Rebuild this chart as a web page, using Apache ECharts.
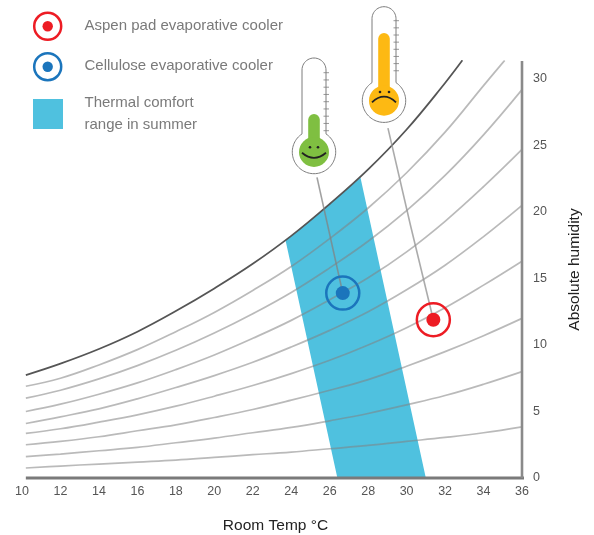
<!DOCTYPE html>
<html>
<head>
<meta charset="utf-8">
<style>html,body{margin:0;padding:0;background:#fff}#c{width:594px;height:535px}</style>
<script src="https://cdn.jsdelivr.net/npm/echarts@6/dist/echarts.min.js"></script>
</head>
<body>
<div id="c"></div>
<script>
// ---- data ----
const xTickMin = 10, xTickMax = 36, xTickStep = 2;
const yTickStep = 5;
const temps = [10.2,12,14,16,18,20,22,24,26,28,30,32,34,36];
const saturationTemps = [10.2,12,14,16,18,20,22,24,26,28,30,32,32.9];
const saturation = [7.74,8.6,9.7,11.0,12.55,14.25,16.1,18.2,20.6,23.2,26.2,29.7,31.4];
const curveATemps = [10.2,12,14,16,18,20,22,24,26,28,30,32,34,35.1];
const curveA = [6.9,7.5,8.5,9.65,11.0,12.45,14.1,15.9,18.0,20.3,22.95,26.0,29.5,31.4];
const curveB = [6.0,6.6,7.45,8.45,9.6,10.9,12.35,13.95,15.8,17.8,20.1,22.75,25.8,29.2];
const curveC = [5.0,5.55,6.3,7.15,8.15,9.25,10.5,11.85,13.4,15.05,17.0,19.3,21.9,24.7];
const curveD = [4.1,4.6,5.2,5.95,6.8,7.7,8.7,9.85,11.1,12.5,14.15,16.0,18.15,20.5];
const curveE = [3.35,3.7,4.2,4.75,5.4,6.15,6.95,7.85,8.85,10.0,11.3,12.8,14.5,16.3];
const curveF = [2.5,2.75,3.1,3.55,4.0,4.55,5.15,5.85,6.6,7.4,8.4,9.5,10.7,12.0];
const curveG = [1.6,1.8,2.05,2.3,2.65,3.0,3.4,3.8,4.3,4.85,5.5,6.2,7.05,8.0];
const curveH = [0.75,0.9,1.05,1.2,1.35,1.55,1.75,1.95,2.2,2.45,2.75,3.05,3.4,3.85];
const comfortTemps = [26.4,31.0,27.6,27,26,25,24,23.7];
const comfortHumidity = [0,0,22.6,21.85,20.6,19.4,18.2,17.9];
const aspenPoint = [31.39,11.9];
const cellulosePoint = [26.68,13.9];
const aspenLeader = [[29.03,26.3],[30.2,19],[31.39,11.9]];
const celluloseLeader = [[25.34,22.6],[26.68,13.9]];
const xBaseLine = [[10.2,0],[36.4,0]];
const yBaseLine = [[36,0],[36,31.35]];
const legendLabels = ['Aspen pad evaporative cooler','Cellulose evaporative cooler','Thermal comfort\nrange in summer'];
const xName = 'Room Temp °C';
const yName = 'Absolute humidity';

// ---- styles ----
const FONT = '"Liberation Sans", Arial, sans-serif';
const RED = '#ED1C24', BLUE = '#1B75BC', CYAN = '#4FC1DF';
const zip = (xs, ys) => ys.map((y, i) => [xs[i], y]);
const grayLine = (name, xs, ys) => ({
  name, type: 'line', data: zip(xs, ys), smooth: 0.4, symbol: 'none', z: 3, silent: true,
  lineStyle: {color: 'rgba(130,130,130,0.55)', width: 1.7}
});

function arcPoints(cx, cy, r, a0, a1, n) {
  const pts = [];
  for (let i = 0; i <= n; i++) {
    const a = a0 + (a1 - a0) * i / n;
    pts.push([cx + r * Math.cos(a), cy + r * Math.sin(a)]);
  }
  return pts;
}
function thermometer(cx, cy, top, fillTop, color, tickYs, face) {
  const sw = 12, R = 21.7, r = 15, inner = 5.8;
  const neckA = Math.asin(sw / R);
  const pts = [
    ...arcPoints(cx, top + sw, sw, Math.PI, 2 * Math.PI, 24),
    ...arcPoints(cx, cy, R, -Math.PI / 2 + neckA, 1.5 * Math.PI - neckA, 72)
  ];
  const els = [
    {type: 'polygon', z: 20, shape: {points: pts}, style: {fill: '#fff', stroke: '#7d7d7d', lineWidth: 1}},
    {type: 'rect', z: 21, shape: {x: cx-inner, y: fillTop, width: inner*2, height: cy-fillTop, r: [inner,inner,0,0]}, style: {fill: color}},
    {type: 'circle', z: 21, shape: {cx, cy, r}, style: {fill: color}}
  ];
  tickYs.forEach(y => els.push({type: 'line', z: 21, shape: {x1: cx+9.5, y1: y, x2: cx+15, y2: y}, style: {stroke: '#7d7d7d', lineWidth: 0.8}}));
  face.forEach(e => els.push(e));
  return els;
}
const eye = (x, y) => ({type: 'circle', z: 22, shape: {cx: x, cy: y, r: 1.3}, style: {fill: '#222'}});
const mouth = (x1, y1, cx, cy, x2, y2) => ({type: 'bezierCurve', z: 22,
  shape: {x1, y1, x2, y2, cpx1: cx, cpy1: cy},
  style: {fill: 'none', stroke: '#222', lineWidth: 1.8}});
const ticksFrom = (start, step, n) => Array.from({length: n}, (_, i) => start + i * step);

const legendIcon = (cy, color) => [
  {type: 'circle', shape: {cx: 47.7, cy, r: 13.5}, style: {fill: 'none', stroke: color, lineWidth: 2.5}},
  {type: 'circle', shape: {cx: 47.7, cy, r: 5.2}, style: {fill: color}}
];
const legendText = (y, text) => ({type: 'text', x: 84.5, y, style: {text, fill: '#7a7a7a', font: '15px ' + FONT, lineHeight: 21.5, textVerticalAlign: 'middle'}});

const chart = echarts.init(document.getElementById('c'), null, {renderer: 'canvas'});
chart.setOption({
  animation: false,
  backgroundColor: '#fff',
  grid: {left: 22, right: 72, top: 61, bottom: 57, containLabel: false, outerBoundsMode: 'none'},
  xAxis: {
    type: 'value', min: xTickMin, max: xTickMax, interval: xTickStep,
    splitLine: {show: false}, axisTick: {show: false}, axisLine: {show: false},
    axisLabel: {color: '#555', fontFamily: FONT, fontSize: 12.5, margin: 7},
    name: xName, nameLocation: 'middle', nameGap: 40,
    nameTextStyle: {color: '#222', fontFamily: FONT, fontSize: 15.5, padding: [0,0,0,7]}
  },
  yAxis: {
    type: 'value', min: 0, max: 31.35, interval: yTickStep, position: 'right',
    splitLine: {show: false}, axisTick: {show: false}, axisLine: {show: false},
    axisLabel: {color: '#555', fontFamily: FONT, fontSize: 12.5, margin: 11, showMaxLabel: false, showMinLabel: true},
    name: yName, nameLocation: 'middle', nameGap: 45, nameRotate: 90,
    nameTextStyle: {color: '#222', fontFamily: FONT, fontSize: 15.5}
  },
  series: [
    {name: 'Thermal comfort range in summer', type: 'custom', z: 2, silent: true, data: [0], clip: false,
      renderItem: (p, api) => ({type: 'polygon',
        shape: {points: zip(comfortTemps, comfortHumidity).map(c => api.coord(c))},
        style: {fill: CYAN}})},
    grayLine('curve A', curveATemps, curveA),
    grayLine('curve B', temps, curveB),
    grayLine('curve C', temps, curveC),
    grayLine('curve D', temps, curveD),
    grayLine('curve E', temps, curveE),
    grayLine('curve F', temps, curveF),
    grayLine('curve G', temps, curveG),
    grayLine('curve H', temps, curveH),
    {name: 'saturation', type: 'line', data: zip(saturationTemps, saturation), smooth: 0.4, symbol: 'none', z: 4, silent: true,
      lineStyle: {color: '#555', width: 1.8}},
    {name: 'aspen leader', type: 'line', data: aspenLeader, smooth: true, symbol: 'none', z: 5, silent: true, clip: false,
      lineStyle: {color: 'rgba(150,150,150,0.8)', width: 1.6}},
    {name: 'cellulose leader', type: 'line', data: celluloseLeader, symbol: 'none', z: 5, silent: true, clip: false,
      lineStyle: {color: 'rgba(130,130,130,0.75)', width: 1.6}},
    {name: 'x axis line', type: 'line', data: xBaseLine, symbol: 'none', z: 6, silent: true, clip: false,
      lineStyle: {color: '#7a7a7a', width: 3}},
    {name: 'y axis line', type: 'line', data: yBaseLine, symbol: 'none', z: 6, silent: true, clip: false,
      lineStyle: {color: '#8a8a8a', width: 2.6}},
    {name: 'Aspen ring', type: 'scatter', data: [aspenPoint], symbol: 'circle', symbolSize: 33, z: 7, silent: true,
      itemStyle: {color: 'rgba(255,255,255,0)', borderColor: RED, borderWidth: 2.5, opacity: 1}},
    {name: 'Aspen pad evaporative cooler', type: 'scatter', data: [aspenPoint], symbol: 'circle', symbolSize: 14, z: 8, silent: true,
      itemStyle: {color: RED, opacity: 1}},
    {name: 'Cellulose ring', type: 'scatter', data: [cellulosePoint], symbol: 'circle', symbolSize: 33, z: 7, silent: true,
      itemStyle: {color: 'rgba(255,255,255,0)', borderColor: BLUE, borderWidth: 2.5, opacity: 1}},
    {name: 'Cellulose evaporative cooler', type: 'scatter', data: [cellulosePoint], symbol: 'circle', symbolSize: 14, z: 8, silent: true,
      itemStyle: {color: BLUE, opacity: 1}}
  ],
  graphic: [
    ...legendIcon(26.3, RED),
    ...legendIcon(66.7, BLUE),
    {type: 'rect', shape: {x: 33, y: 99, width: 30, height: 30}, style: {fill: CYAN}},
    legendText(26, legendLabels[0]),
    legendText(66, legendLabels[1]),
    legendText(114, legendLabels[2]),
    ...thermometer(314, 152, 58, 114, '#7FBF41', ticksFrom(72.7, 7.25, 9), [
      eye(310, 147.3), eye(318, 147.3), mouth(302, 152.7, 314, 163, 326, 152.7)]),
    ...thermometer(384, 100.7, 6.7, 33, '#FDB913', ticksFrom(20.7, 7.15, 8), [
      eye(380, 92), eye(389, 92), mouth(372, 102.3, 384, 91, 396, 102.3)])
  ]
});
</script>
</body>
</html>
